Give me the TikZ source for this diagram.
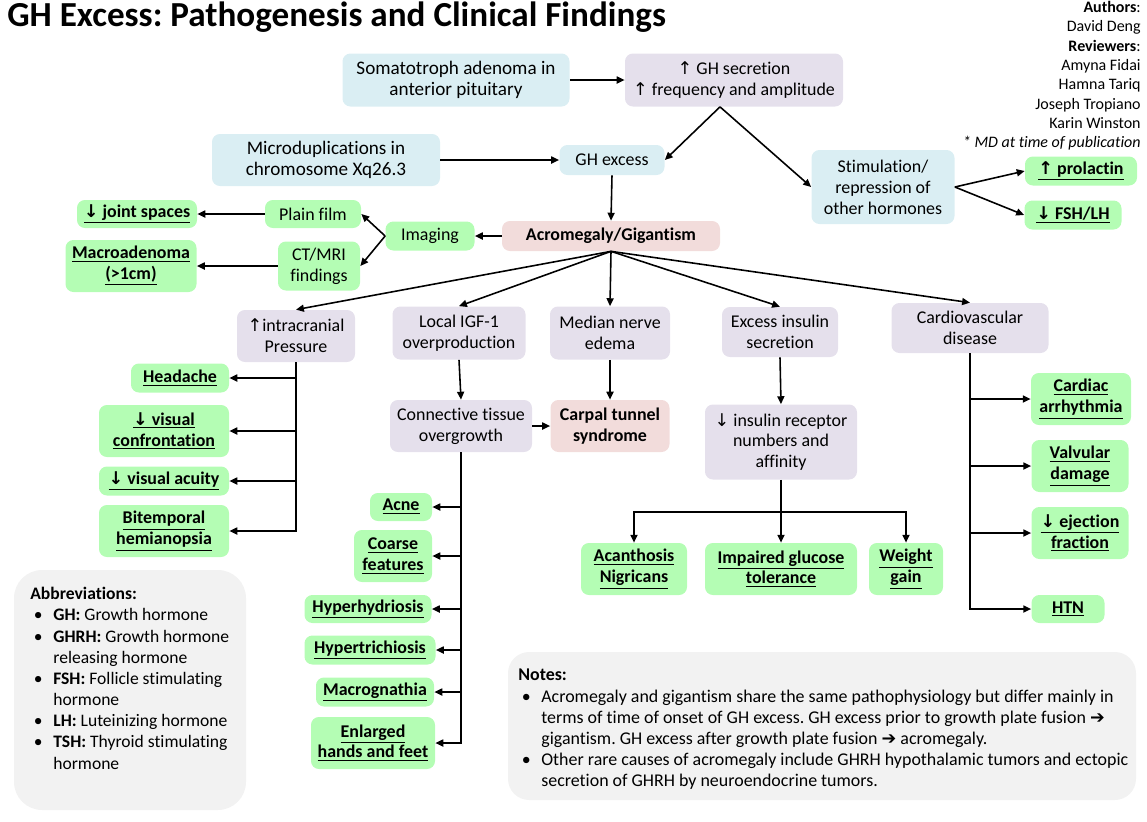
\documentclass[tikz,border=0pt]{standalone}
\usepackage{fontspec}
\setmainfont{Carlito}[Ligatures=NoCommon]
\newfontfamily\arrfont{DejaVu Sans}
\usetikzlibrary{arrows.meta}
\frenchspacing
\definecolor{bluebox}{HTML}{DAEEF3}
\definecolor{purplebox}{HTML}{E5E0EC}
\definecolor{greenbox}{HTML}{B4FDB4}
\definecolor{pinkbox}{HTML}{F2DCDB}
\definecolor{graybox}{HTML}{F2F2F2}
\newcommand{\uparr}{{\arrfont\fontsize{10}{10}\selectfont ↑}}
\newcommand{\dnarr}{{\arrfont\fontsize{10}{10}\selectfont ↓}}
\newcommand{\thenarr}{{\arrfont\bfseries\fontsize{10}{10}\selectfont ➔}}
\newcommand{\undl}[1]{\underline{#1}}
\newcommand{\bul}{\makebox[0.46cm][l]{\hspace{2pt}•}}
\newcommand{\nobul}{\makebox[0.46cm][l]{}}
\begin{document}
\begin{tikzpicture}
  [x=0.02cm,y=-0.02cm,
   every node/.style={font=\fontsize{10.2}{11.9}\selectfont},
   box/.style={rounded corners=4.5pt,align=center,inner sep=1pt},
   sz/.style 2 args={minimum width=#1*0.02cm,minimum height=#2*0.02cm},
   cause/.style={box,fill=bluebox},
   mech/.style={box,fill=purplebox},
   dx/.style={box,fill=pinkbox,font=\fontsize{10.2}{11.9}\selectfont\bfseries},
   img/.style={box,fill=greenbox},
   find/.style={box,fill=greenbox,font=\fontsize{10.2}{11.9}\selectfont\bfseries},
   arr/.style={-{Triangle[length=4.5pt,width=4pt]},line width=0.9pt},
   ln/.style={line width=0.9pt}]
  \useasboundingbox (0,0) rectangle (1147,822);

  % title and authors
  \node (title) at (7,17) [anchor=west,inner sep=0pt,font=\fontsize{20}{22}\selectfont\bfseries] {GH Excess: Pathogenesis and Clinical Findings};
  \node (authors) at (1141,1) [anchor=north east,inner sep=0pt,align=right,font=\fontsize{9.1}{11}\selectfont]
    {\textbf{Authors}:\\David Deng\\\textbf{Reviewers}:\\Amyna Fidai\\Hamna Tariq\\Joseph Tropiano\\Karin Winston\\\textit{* MD at time of publication}};

  % top: causes
  \node (adenoma) at (456,80) [cause,sz={227}{53},font=\fontsize{10.9}{11.9}\selectfont] {Somatotroph adenoma in\\anterior pituitary};
  \node (ghsec) at (734,80) [mech,sz={218}{53}] {\uparr\ GH secretion\\\uparr\ frequency and amplitude};
  \node (micro) at (326,160) [cause,sz={228}{52},font=\fontsize{10.9}{11.9}\selectfont] {Microduplications in\\chromosome Xq26.3};
  \node (ghex) at (612,160) [cause,sz={105}{30}] {GH excess};
  \node (stim) at (883,187) [cause,sz={143}{74}] {Stimulation/\\repression of\\other hormones};
  \node (prolactin) at (1081,171) [find,sz={112}{29}] {\undl{\uparr\ prolactin}};
  \node (fsh) at (1073,215) [find,sz={97}{29}] {\undl{\dnarr\ FSH/LH}};
  \node (acro) at (611,236) [dx,sz={218}{30}] {Acromegaly/Gigantism};

  % imaging
  \node (imaging) at (430,236) [img,sz={89}{29}] {Imaging};
  \node (plain) at (313,214) [img,sz={96}{28}] {Plain film};
  \node (ctmri) at (319,266) [img,sz={82}{49}] {CT/MRI\\findings};
  \node (joint) at (137,214) [find,sz={120}{28}] {\undl{\dnarr\ joint spaces}};
  \node (macro) at (131,266) [find,sz={131}{52}] {\undl{Macroadenoma}\\\undl{(>1cm)}};

  % mechanisms
  \node (icp) at (296,336) [mech,sz={118}{52}] {\uparr intracranial\\Pressure};
  \node (igf) at (459,333) [mech,sz={133}{53}] {Local IGF-1\\overproduction};
  \node (median) at (610,333) [mech,sz={120}{53}] {Median nerve\\edema};
  \node (insulin) at (780,332) [mech,sz={116}{50}] {Excess insulin\\secretion};
  \node (cardio) at (970,328) [mech,sz={157}{50}] {Cardiovascular\\disease};
  \node (connective) at (461,426) [mech,sz={142}{52}] {Connective tissue\\overgrowth};
  \node (carpal) at (610,426) [dx,sz={119}{52}] {Carpal tunnel\\syndrome};
  \node (insrec) at (781,442) [mech,sz={152}{75}] {\dnarr\ insulin receptor\\numbers and\\affinity};

  % findings
  \node (headache) at (180,378) [find,sz={98}{29}] {\undl{Headache}};
  \node (visconf) at (164,431) [find,sz={130}{52}] {\undl{\dnarr\ visual}\\\undl{confrontation}};
  \node (visacu) at (164,481) [find,sz={130}{29}] {\undl{\dnarr\ visual acuity}};
  \node (bitemp) at (164,531) [find,sz={130}{52}] {\undl{Bitemporal}\\\undl{hemianopsia}};
  \node (acne) at (401,507) [find,sz={62}{28}] {\undl{Acne}};
  \node (coarse) at (393,556) [find,sz={78}{52}] {\undl{Coarse}\\\undl{features}};
  \node (hyperhyd) at (368,609) [find,sz={127}{28}] {\undl{Hyperhydriosis}};
  \node (hypertri) at (370,650) [find,sz={131}{29}] {\undl{Hypertrichiosis}};
  \node (macrog) at (375,692) [find,sz={118}{29}] {\undl{Macrognathia}};
  \node (hands) at (373,743) [find,sz={124}{52}] {\undl{Enlarged}\\\undl{hands and feet}};
  \node (acanth) at (634,569) [find,sz={106}{52}] {\undl{Acanthosis}\\\undl{Nigricans}};
  \node (impaired) at (781,569) [find,sz={152}{52}] {\undl{Impaired glucose}\\\undl{tolerance}};
  \node (weight) at (906,569) [find,sz={74}{52}] {\undl{Weight}\\\undl{gain}};
  \node (arrh) at (1081,399) [find,sz={100}{52}] {\undl{Cardiac}\\\undl{arrhythmia}};
  \node (valv) at (1080,466) [find,sz={97}{52}] {\undl{Valvular}\\\undl{damage}};
  \node (eject) at (1080,533) [find,sz={97}{52}] {\undl{\dnarr\ ejection}\\\undl{fraction}};
  \node (htn) at (1068,609) [find,sz={73}{28}] {\undl{HTN}};

  % straight arrows
  \foreach \from/\to in {adenoma/ghsec, micro/ghex, acro/imaging, plain/joint, ctmri/macro, connective/carpal}
    \draw[arr] (\from) -- (\to);
  \foreach \from/\to in {ghex/acro, igf/connective, median/carpal, insulin/insrec}
    \draw[arr] (\from.south) -- (\to.north);
  \draw[arr] ([xshift=-0.28cm]ghsec.south) -- (ghex.east);
  \draw[arr] ([xshift=-0.28cm]ghsec.south) -- (stim.west);
  \draw[arr] (stim.east) -- (prolactin.west);
  \draw[arr] (stim.east) -- (fsh.west);
  \draw[arr] (imaging.west) -- (plain.east);
  \draw[arr] (imaging.west) -- (ctmri.east);
  \foreach \to in {icp, igf, median, insulin, cardio}
    \draw[arr] (acro.south) -- (\to.north);

  % branches
  \draw[arr] (icp.south) |- (bitemp.east);
  \foreach \to in {headache, visconf, visacu}
    \draw[arr] (icp.south |- \to.east) -- (\to.east);
  \draw[arr] (connective.south) |- (hands.east);
  \foreach \to in {acne, coarse, hyperhyd, hypertri, macrog}
    \draw[arr] (connective.south |- \to.east) -- (\to.east);
  \draw[arr] (cardio.south) |- (htn.west);
  \foreach \to in {arrh, valv, eject}
    \draw[arr] (cardio.south |- \to.west) -- (\to.west);
  \coordinate (fork) at (781,512);
  \draw[ln] (insrec.south) -- (fork);
  \draw[arr] (fork) -- (impaired.north);
  \draw[arr] (fork) -| (acanth.north);
  \draw[arr] (fork) -| (weight.north);

  % abbreviations and notes
  \fill[graybox,rounded corners=16pt] (14,570) rectangle (246,810);
  \node (abbr) at (30,587) [anchor=north west,inner sep=0pt,align=left,font=\fontsize{10}{12.05}\selectfont]
    {\textbf{Abbreviations:}\\
     \bul\textbf{GH:} Growth hormone\\
     \bul\textbf{GHRH:} Growth hormone\\
     \nobul releasing hormone\\
     \bul\textbf{FSH:} Follicle stimulating\\
     \nobul hormone\\
     \bul\textbf{LH:} Luteinizing hormone\\
     \bul\textbf{TSH:} Thyroid stimulating\\
     \nobul hormone};
  \fill[graybox,rounded corners=12pt] (508,652) rectangle (1136,800);
  \node (notes) at (518,669) [anchor=north west,inner sep=0pt,align=left,font=\fontsize{10.2}{12.05}\selectfont]
    {\textbf{Notes:}\\
     \bul Acromegaly and gigantism share the same pathophysiology but differ mainly in\\
     \nobul terms of time of onset of GH excess. GH excess prior to growth plate fusion \thenarr\\
     \nobul gigantism. GH excess after growth plate fusion \thenarr\ acromegaly.\\
     \bul Other rare causes of acromegaly include GHRH hypothalamic tumors and ectopic\\
     \nobul secretion of GHRH by neuroendocrine tumors.};
\end{tikzpicture}
\end{document}
